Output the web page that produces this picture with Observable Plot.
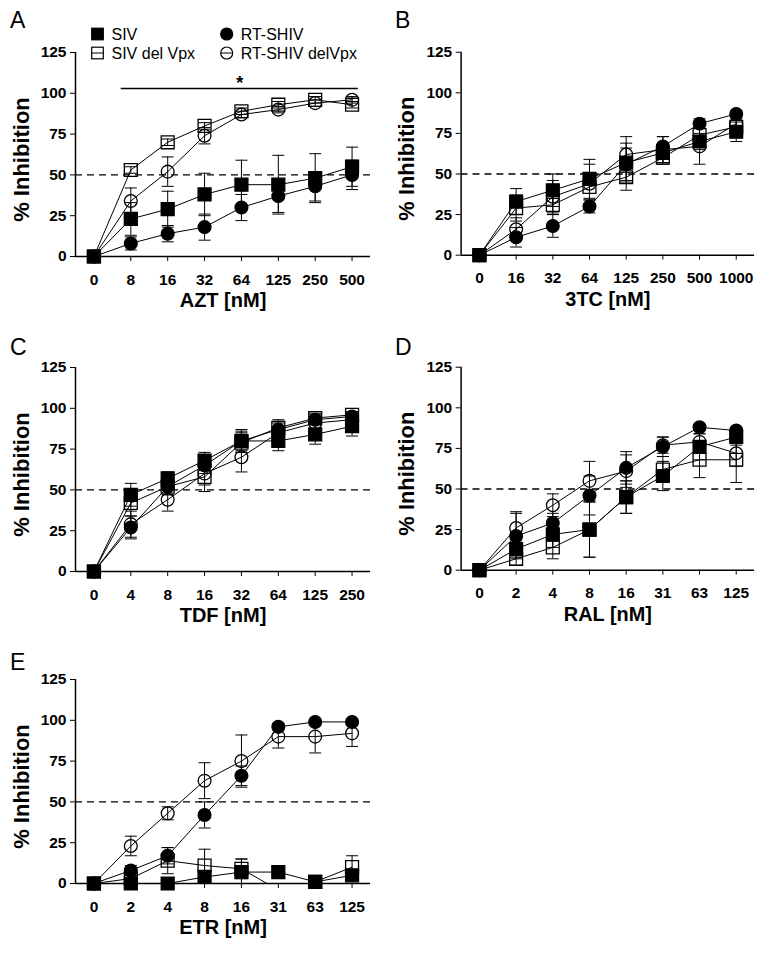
<!DOCTYPE html>
<html>
<head>
<meta charset="utf-8">
<script src="https://cdn.jsdelivr.net/npm/d3@7"></script>
<script src="https://cdn.jsdelivr.net/npm/@observablehq/plot@0.6"></script>
<style>
  html, body { margin: 0; padding: 0; background: #fff; }
  #wrap { position: relative; width: 768px; height: 953px; overflow: hidden; font-family: "Liberation Sans", Arial, sans-serif; }
  .panel { position: absolute; }
  .panel svg g[aria-label="x-axis tick label"], .panel svg g[aria-label="y-axis tick label"] { font-size: 15.5px; font-weight: bold; }
  #overlay { position: absolute; left: 0; top: 0; pointer-events: none; }
</style>
</head>
<body>
<div id="wrap"></div>
<script>
// ---------- shared labels ----------
const seriesNames = ["SIV", "SIV del Vpx", "RT-SHIV", "RT-SHIV delVpx"];
const panelLetters = ["A", "B", "C", "D", "E"];
const yTicks = [0, 25, 50, 75, 100, 125];
const yLabel = "% Inhibition";
const refLine = [50];

// ---------- Panel A: AZT ----------
const aztDoses = ["0", "8", "16", "32", "64", "125", "250", "500"];
const aztSIV        = [0, 23, 29, 38, 44, 44, 48, 55];
const aztSIVErr     = [0, 10, 11, 13, 15, 18, 15, 12];
const aztSIVdel     = [0, 53, 70, 80, 89, 93, 96, 93];
const aztSIVdelErr  = [0, 2, 2, 2, 2, 2, 2, 2];
const aztRT         = [0, 8, 14, 18, 30, 37, 43, 50];
const aztRTErr      = [0, 4, 5, 8, 8, 10, 9, 9];
const aztRTdel      = [0, 34, 52, 74, 87, 90, 94, 96];
const aztRTdelErr   = [0, 8, 9, 5, 2, 2, 2, 2];
const aztSig = [{from: 0.74, to: 7.17, y: 103, mark: "*"}];

// ---------- Panel B: 3TC ----------
const tcDoses = ["0", "16", "32", "64", "125", "250", "500", "1000"];
const tcSIV       = [0, 33, 40, 47, 57, 63, 70, 76];
const tcSIVErr    = [0, 8, 10, 12, 12, 6, 5, 6];
const tcSIVdel    = [0, 29, 31, 42, 48, 60, 74, 79];
const tcSIVdelErr = [0, 8, 6, 8, 8, 4, 5, 5];
const tcRT        = [0, 11, 18, 30, 56, 67, 81, 87];
const tcRTErr     = [0, 6, 7, 4, 10, 6, 3, 2];
const tcRTdel     = [0, 16, 36, 44, 62, 65, 67, 81];
const tcRTdelErr  = [0, 7, 10, 12, 11, 8, 11, 5];

// ---------- Panel C: TDF ----------
const tdfDoses = ["0", "4", "8", "16", "32", "64", "125", "250"];
const tdfSIV       = [0, 47, 57, 68, 80, 80, 84, 89];
const tdfSIVErr    = [0, 7, 4, 5, 7, 6, 6, 6];
const tdfSIVdel    = [0, 42, 52, 58, 79, 88, 94, 96];
const tdfSIVdelErr = [0, 8, 5, 5, 6, 5, 3, 2];
const tdfRT        = [0, 27, 52, 65, 80, 87, 93, 95];
const tdfRTErr     = [0, 7, 5, 5, 6, 5, 3, 3];
const tdfRTdel     = [0, 29, 44, 60, 70, 85, 91, 93];
const tdfRTdelErr  = [0, 8, 7, 11, 9, 6, 4, 3];

// ---------- Panel D: RAL ----------
const ralDoses = ["0", "2", "4", "8", "16", "31", "63", "125"];
const ralSIV       = [0, 13, 22, 25, 45, 58, 76, 82];
const ralSIVErr    = [0, 5, 8, 17, 10, 9, 8, 5];
const ralSIVdel    = [0, 7, 14, 25, 45, 62, 68, 68];
const ralSIVdelErr = [0, 4, 7, 17, 10, 8, 11, 14];
const ralRT        = [0, 21, 29, 46, 63, 76, 88, 86];
const ralRTErr     = [0, 14, 6, 12, 10, 6, 2, 2];
const ralRTdel     = [0, 26, 40, 55, 61, 77, 79, 72];
const ralRTdelErr  = [0, 10, 7, 12, 10, 5, 5, 8];

// ---------- Panel E: ETR ----------
const etrDoses = ["0", "2", "4", "8", "16", "31", "63", "125"];
const etrSIV       = [0, 0, 0, 4, 7, 7, 1, 5];
const etrSIVErr    = [0, 1, 1, 3, 8, 2, 1, 2];
const etrSIVdel    = [0, 3, 14, 11, 9, -4, 1, 10];
const etrSIVdelErr = [0, 2, 8, 10, 6, 0, 2, 7];
const etrRT        = [0, 8, 17, 42, 66, 96, 99, 99];
const etrRTErr     = [0, 3, 5, 8, 6, 2, 1, 1];
const etrRTdel     = [0, 23, 43, 63, 75, 90, 90, 92];
const etrRTdelErr  = [0, 6, 4, 11, 16, 7, 10, 8];

// ---------- styling ----------
const seriesSymbol = ["square", "square", "circle", "circle"];
const seriesFill = ["black", "none", "black", "none"];
const seriesR = [7.3, 7.3, 6.4, 6.4];
const drawOrder = [3, 2, 1, 0];
const capSymbol = {
  draw(context, size) {
    const w = Math.sqrt(size / Math.PI);
    context.moveTo(-w, 0);
    context.lineTo(w, 0);
  }
};

const panels = [
  {doses: aztDoses, xLabel: "AZT [nM]", left: 0, top: 0, sig: aztSig,
   values: [aztSIV, aztSIVdel, aztRT, aztRTdel], errs: [aztSIVErr, aztSIVdelErr, aztRTErr, aztRTdelErr]},
  {doses: tcDoses, xLabel: "3TC [nM]", left: 386, top: 0, sig: [],
   values: [tcSIV, tcSIVdel, tcRT, tcRTdel], errs: [tcSIVErr, tcSIVdelErr, tcRTErr, tcRTdelErr]},
  {doses: tdfDoses, xLabel: "TDF [nM]", left: 0, top: 315, sig: [],
   values: [tdfSIV, tdfSIVdel, tdfRT, tdfRTdel], errs: [tdfSIVErr, tdfSIVdelErr, tdfRTErr, tdfRTdelErr]},
  {doses: ralDoses, xLabel: "RAL [nM]", left: 386, top: 315, sig: [],
   values: [ralSIV, ralSIVdel, ralRT, ralRTdel], errs: [ralSIVErr, ralSIVdelErr, ralRTErr, ralRTdelErr]},
  {doses: etrDoses, xLabel: "ETR [nM]", left: 0, top: 627, sig: [],
   values: [etrSIV, etrSIVdel, etrRT, etrRTdel], errs: [etrSIVErr, etrSIVdelErr, etrRTErr, etrRTdelErr]}
];

const wrap = document.getElementById("wrap");

function makePanel(p) {
  const n = p.doses.length;
  const idx = d3.range(n);
  const xDomain = [-0.5, n - 0.5];
  const yDomain = [yTicks[0], yTicks[yTicks.length - 1]];
  const rows = [];
  p.values.forEach((vals, k) => vals.forEach((v, i) => rows.push({series: seriesNames[k], k, i, v, e: p.errs[k][i]})));
  const errRows = rows.filter(d => d.e > 0 && d.v >= yDomain[0]);
  const shown = rows.filter(d => d.v >= yDomain[0]);

  const marks = [
    Plot.ruleY(refLine, {stroke: "black", strokeWidth: 1.4, strokeDasharray: "7,5"}),
    Plot.line(rows, {x: "i", y: "v", z: "series", stroke: "black", strokeWidth: 1, clip: true}),
    Plot.ruleX(errRows, {x: "i", y1: d => Math.max(yDomain[0], d.v - d.e), y2: d => d.v + d.e, stroke: "black", strokeWidth: 1}),
    Plot.dot(errRows, {x: "i", y: d => d.v + d.e, symbol: capSymbol, r: 6, stroke: "black", fill: "none", strokeWidth: 1}),
    Plot.dot(errRows.filter(d => d.v - d.e >= yDomain[0]), {x: "i", y: d => d.v - d.e, symbol: capSymbol, r: 6, stroke: "black", fill: "none", strokeWidth: 1}),
    ...drawOrder.map(k => Plot.dot(shown.filter(d => d.k === k), {
      x: "i", y: "v", symbol: seriesSymbol[k], r: seriesR[k],
      fill: seriesFill[k], stroke: "black", strokeWidth: 1.3
    })),
    Plot.ruleX([xDomain[0]], {y1: yDomain[0], y2: yDomain[1], stroke: "black", strokeWidth: 1.5}),
    Plot.ruleY([yDomain[0]], {stroke: "black", strokeWidth: 1.5}),
    Plot.axisY({ticks: yTicks, tickSize: 5, tickPadding: 4, label: null}),
    Plot.axisX({ticks: idx, tickFormat: i => p.doses[i], tickSize: 5, tickPadding: 12, label: null}),
    Plot.text([yLabel], {frameAnchor: "left", textAnchor: "middle", lineAnchor: "middle", rotate: -90, dx: -54, dy: 5, fontSize: 22, fontWeight: "bold", fill: "black"}),
    Plot.text([p.xLabel], {frameAnchor: "bottom", textAnchor: "middle", lineAnchor: "middle", dy: 44.5, fontSize: 20, fontWeight: "bold", fill: "black"}),
    Plot.ruleY(p.sig, {x1: "from", x2: "to", y: "y", stroke: "black", strokeWidth: 1.5}),
    Plot.text(p.sig, {x: d => (d.from + d.to) / 2, y: "y", text: "mark", dy: -5, fontSize: 18, fontWeight: "bold", fill: "black"})
  ];

  const svg = Plot.plot({
    width: 384,
    height: 312,
    marginLeft: 75,
    marginRight: 14,
    marginTop: 52,
    marginBottom: 56,
    x: {type: "linear", domain: xDomain},
    y: {type: "linear", domain: yDomain},
    style: {fontFamily: "'Liberation Sans', Arial, sans-serif", fontSize: "15px", fontWeight: "bold", color: "black", background: "transparent", overflow: "visible"},
    marks
  });
  const div = document.createElement("div");
  div.className = "panel";
  div.style.left = p.left + "px";
  div.style.top = p.top + "px";
  div.appendChild(svg);
  wrap.appendChild(div);
}

panels.forEach(makePanel);

// ---------- overlay: panel letters and legend ----------
const NS = "http://www.w3.org/2000/svg";
const overlay = document.createElementNS(NS, "svg");
overlay.setAttribute("id", "overlay");
overlay.setAttribute("width", 768);
overlay.setAttribute("height", 953);
overlay.style.fontFamily = "'Liberation Sans', Arial, sans-serif";
wrap.appendChild(overlay);

function el(tag, attrs, text) {
  const e = document.createElementNS(NS, tag);
  for (const k in attrs) e.setAttribute(k, attrs[k]);
  if (text != null) e.textContent = text;
  overlay.appendChild(e);
  return e;
}

const letterPos = [[10, 28], [395, 28], [10, 355], [395, 355], [10, 670]];
panelLetters.forEach((L, j) => el("text", {x: letterPos[j][0], y: letterPos[j][1], "font-size": 23, fill: "black"}, L));

const legendX = [97.5, 97.5, 226.7, 226.7];
const legendY = [34, 53, 34, 53];
seriesNames.forEach((name, k) => {
  const cx = legendX[k], cy = legendY[k];
  el("line", {x1: cx - 6, x2: cx + 6, y1: cy, y2: cy, stroke: "black", "stroke-width": 1});
  if (seriesSymbol[k] === "square") {
    el("rect", {x: cx - 5.8, y: cy - 5.8, width: 11.6, height: 11.6, fill: seriesFill[k], stroke: "black", "stroke-width": 1.2});
  } else {
    el("circle", {cx, cy, r: 6, fill: seriesFill[k], stroke: "black", "stroke-width": 1.2});
  }
  el("text", {x: cx + 14, y: cy + 6, "font-size": 16, fill: "black"}, name);
});
</script>
</body>
</html>
